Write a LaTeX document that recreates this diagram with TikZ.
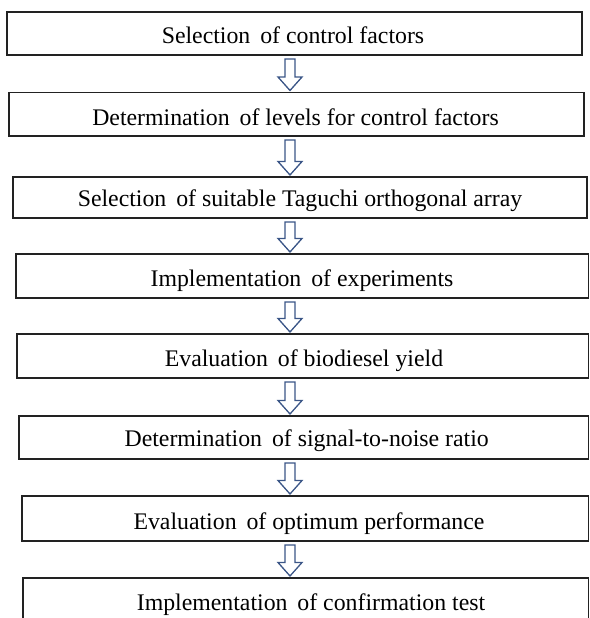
\documentclass[tikz,border=0pt]{standalone}
\usepackage{fontspec}
\setmainfont{Liberation Serif}
\usetikzlibrary{calc}
\definecolor{arrowblue}{HTML}{3B5687}
\definecolor{boxline}{HTML}{222222}
\newcommand\flowarrow[2]{%
  \draw[blockarr] let \p1=(ax |- #1.south), \p2=(ax |- #2.north) in
    (\x1-5pt,\y1-4pt) -- (\x1+5pt,\y1-4pt) -- (\x1+5pt,\y2+15.5pt)
    -- (\x1+12pt,\y2+15.5pt) -- (\x1,\y2+2pt) -- (\x1-12pt,\y2+15.5pt)
    -- (\x1-5pt,\y2+15.5pt) -- cycle;}
\begin{document}
\begin{tikzpicture}[x=1pt,y=-1pt,
  stepbox/.style={draw=boxline, line width=1.4pt, rectangle, inner sep=0pt, outer sep=0pt, anchor=north west},
  steptext/.style={anchor=base, inner sep=0pt, font=\fontsize{23.8}{28}\selectfont},
  blockarr/.style={draw=arrowblue, line width=1.3pt, fill=white, line join=miter}]
\useasboundingbox (0,0) rectangle (589,618);
\clip (0,0) rectangle (589,618);
\coordinate (ax) at (290,0);
% boxes
\node[stepbox, minimum width=575pt, minimum height=43pt] (b1) at (7,12) {};
\node[stepbox, minimum width=575pt, minimum height=43.5pt] (b2) at (9,92.5) {};
\node[stepbox, minimum width=574pt, minimum height=41pt] (b3) at (13,177) {};
\node[stepbox, minimum width=572.3pt, minimum height=44pt] (b4) at (16,254) {};
\node[stepbox, minimum width=571.3pt, minimum height=44pt] (b5) at (17,334) {};
\node[stepbox, minimum width=569.3pt, minimum height=43pt] (b6) at (19,416) {};
\node[stepbox, minimum width=566.3pt, minimum height=45pt] (b7) at (22,496) {};
\node[stepbox, minimum width=565.3pt, minimum height=44pt] (b8) at (23,578) {};
% texts
\node[steptext] (t1) at (293,43.3) {Selection\, of control factors};
\node[steptext] (t2) at (295.5,125) {Determination\, of levels for control factors};
\node[steptext] (t3) at (300,206.7) {Selection\, of suitable Taguchi orthogonal array};
\node[steptext] (t4) at (302,286) {Implementation\, of experiments};
\node[steptext] (t5) at (304,366.7) {Evaluation\, of biodiesel yield};
\node[steptext] (t6) at (306.7,446.7) {Determination\, of signal-to-noise ratio};
\node[steptext] (t7) at (309,529) {Evaluation\, of optimum performance};
\node[steptext] (t8) at (311,610) {Implementation\, of confirmation test};
% arrows
\flowarrow{b1}{b2}
\flowarrow{b2}{b3}
\flowarrow{b3}{b4}
\flowarrow{b4}{b5}
\flowarrow{b5}{b6}
\flowarrow{b6}{b7}
\flowarrow{b7}{b8}
\end{tikzpicture}
\end{document}
